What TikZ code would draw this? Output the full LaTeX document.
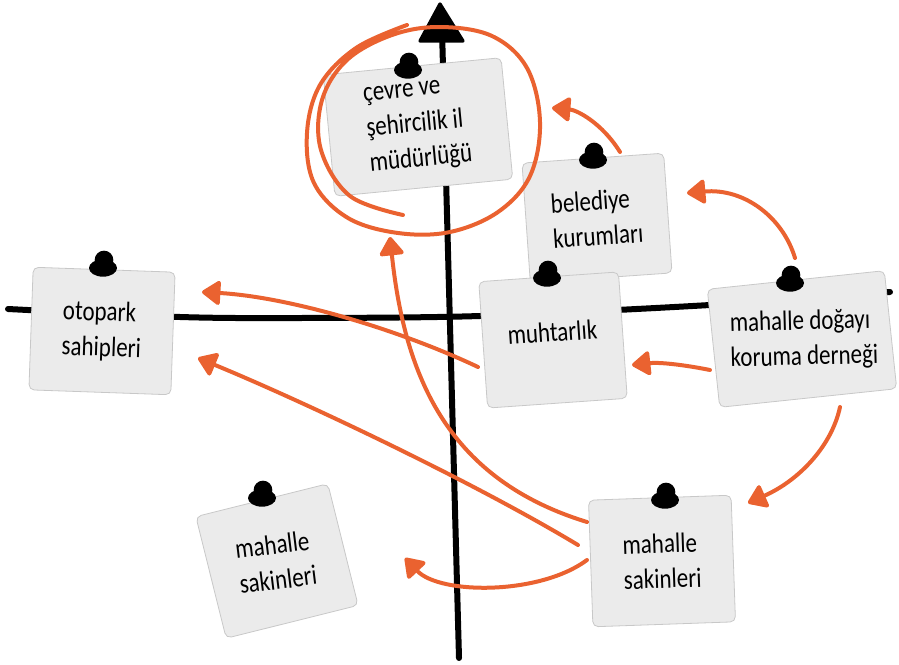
\documentclass[tikz,border=0pt]{standalone}
\usepackage{fontspec}
\newfontfamily\hand[FakeStretch=0.82]{Carlito}
\usetikzlibrary{arrows.meta,calc}
\definecolor{accent}{RGB}{234,98,48}
\definecolor{notefill}{RGB}{235,235,235}
\definecolor{noteline}{RGB}{200,200,200}
\begin{document}
\begin{tikzpicture}[x=0.75pt,y=-0.75pt,
  handfont/.style={font={\hand\fontsize{21pt}{26.5pt}\selectfont}},
  note/.style={draw=noteline, line width=0.6pt, fill=notefill, rounded corners=4pt,
    align=left, inner sep=0pt, handfont},
  notetext/.style={align=left, inner sep=0pt, handfont},
  link/.style={draw=accent, line width=3pt, line cap=round,
    -{Triangle[length=15pt,width=20pt,round]}},
  axisline/.style={line width=4.5pt, line cap=round, line join=round},
  pinblob/.style={fill=black}]
\useasboundingbox (0,0) rectangle (899,664);
% axes
\draw[axisline] (442,30) -- (459,658);
\fill[line join=round, draw=black, line width=2.5pt] (440,4) -- (463,41) -- (420,41) -- cycle;
\draw[axisline] plot[smooth] coordinates {(8,309) (180,317) (300,318) (480,316) (710,305) (890,292)};
% notes
\node[note, minimum width=134pt, minimum height=91.5pt, rotate=5.5] (cevre) at (418,127) {çevre ve\\şehircilik il\\müdürlüğü};
\node[note, minimum width=106.5pt, minimum height=90pt, rotate=4] (beled) at (597,218) {belediye\\kurumları};
\node[note, minimum width=105pt, minimum height=95pt, rotate=4] (muhtar) at (553,340) {\raisebox{12pt}{muhtarlık}};
\node[note, minimum width=133.5pt, minimum height=89pt, rotate=6] (dernek) at (802,339) {};
\node[notetext, rotate=1.5] (dernektext) at (804,340) {mahalle doğayı\\koruma derneği};
\node[note, minimum width=106.5pt, minimum height=92pt, rotate=-2] (otopark) at (102,331) {otopark\\sahipleri};
\node[note, minimum width=102pt, minimum height=94pt, rotate=14] (sakinL) at (277,561) {};
\node[notetext, rotate=7] (sakinLtext) at (276,562) {mahalle\\sakinleri};
\node[note, minimum width=107pt, minimum height=95pt, rotate=2] (sakinR) at (662,561) {mahalle\\sakinleri};
% pins
\foreach \p in {(408,67),(593,157),(547,275),(790,280),(103,265),(262,495),(665,497)}
  \fill[pinblob, shift={\p}] (0,3) ellipse [x radius=10.5pt, y radius=6.5pt] (1,-5) circle [radius=7pt];
% highlight spiral
\draw[accent, line width=3pt, line cap=round] plot[smooth, tension=0.6] coordinates {
  (403,215) (350,196) (321,150) (322,100) (347,60) (392,35) (440,27) (492,36) (527,68)
  (540,122) (530,176) (498,212) (450,232) (398,233) (348,218) (314,183) (307,133)
  (320,85) (356,48) (407,25)};
% connectors
\draw[link] ($(beled)+(23,-66)$) .. controls ($(beled)+(5,-95)$) and ($(beled)+(-20,-108)$) .. ($(cevre)+(134,-19)$);
\draw[link] ($(dernek)+(-7,-81)$) .. controls ($(dernek)+(-19,-121)$) and ($(dernek)+(-57,-151)$) .. ($(beled)+(90,-25)$);
\draw[link] ($(dernek)+(-92,31)$) .. controls ($(dernek)+(-117,26)$) and ($(dernek)+(-142,23)$) .. ($(muhtar)+(79,25)$);
\draw[link] ($(dernek)+(38,68)$) .. controls ($(dernek)+(30,106)$) and ($(dernek)+(-2,141)$) .. ($(sakinR)+(86,-58)$);
\draw[link] ($(muhtar)+(-75,27)$) .. controls ($(muhtar)+(-153,-10)$) and ($(muhtar)+(-263,-43)$) .. ($(otopark)+(100,-39)$);
\draw[link] ($(sakinR)+(-84,-16)$) .. controls ($(sakinR)+(-192,-81)$) and ($(sakinR)+(-362,-161)$) .. ($(otopark)+(96,27)$);
\draw[link] ($(sakinR)+(-75,-39)$) .. controls ($(sakinR)+(-212,-81)$) and ($(sakinR)+(-257,-181)$) .. ($(cevre)+(-28,110)$);
\draw[link] ($(sakinR)+(-75,-1)$) .. controls ($(sakinR)+(-122,34)$) and ($(sakinR)+(-222,34)$) .. ($(sakinL)+(128,-3)$);
\end{tikzpicture}
\end{document}
